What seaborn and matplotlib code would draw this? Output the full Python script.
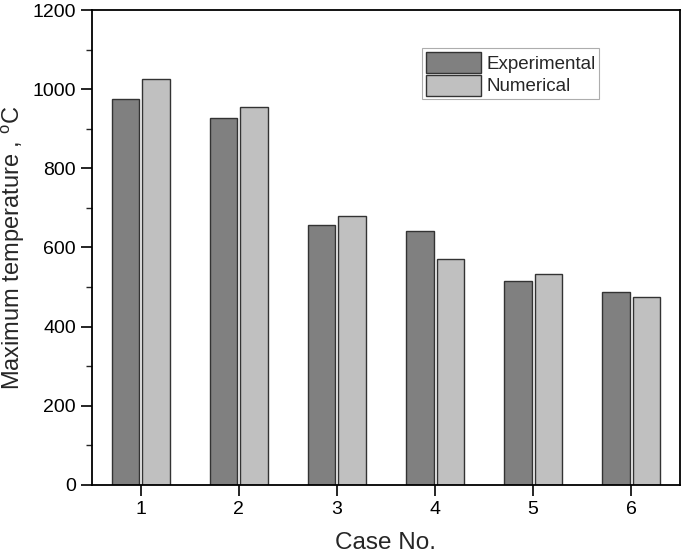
import matplotlib
matplotlib.use('Agg')
import matplotlib.pyplot as plt
import pandas as pd
import seaborn as sns
from matplotlib.ticker import MultipleLocator

cases = ['1', '2', '3', '4', '5', '6']
experimental = [975, 927, 657, 641, 515, 488]
numerical = [1025, 955, 679, 571, 532, 474]
series = ['Experimental', 'Numerical']
colors = ['#808080', '#c0c0c0']

data = pd.DataFrame({
    'case': cases * 2,
    'temp': experimental + numerical,
    'kind': [series[0]] * len(cases) + [series[1]] * len(cases),
})

sns.set_style('ticks')
plt.rcParams['font.family'] = ['Liberation Sans', 'DejaVu Sans']
plt.rcParams['mathtext.fontset'] = 'custom'
plt.rcParams['mathtext.rm'] = 'Liberation Sans'

fig = plt.figure(figsize=(6.85, 5.56), dpi=100)
ax = fig.add_axes([0.134, 0.128, 0.859, 0.854])

sns.barplot(data=data, x='case', y='temp', hue='kind', palette=colors,
            width=0.62, gap=0.1, edgecolor='#333333', linewidth=1.0,
            saturation=1, ax=ax)

ax.set_xlim(-0.5, 5.5)
ax.set_ylim(0, 1200)
ax.yaxis.set_major_locator(MultipleLocator(200))
ax.yaxis.set_minor_locator(MultipleLocator(100))
ax.tick_params(axis='both', which='major', direction='out', length=8, width=1.2,
               labelsize=14, colors='black')
ax.tick_params(axis='y', which='minor', direction='out', length=4, width=1.0)
for s in ax.spines.values():
    s.set_visible(True)
    s.set_linewidth(1.3)
    s.set_color('black')

ax.set_xlabel('Case No.', fontsize=17.5, labelpad=10)
ax.set_ylabel('Maximum temperature , $^{\\mathrm{o}}$C', fontsize=17, labelpad=4)

leg = ax.legend(loc='upper left', bbox_to_anchor=(0.562, 0.92), fontsize=13.5,
                frameon=True, fancybox=False, edgecolor='#999999',
                handlelength=2.9, handleheight=1.35, handletextpad=0.3,
                borderpad=0.2, labelspacing=0.1, borderaxespad=0)
leg.get_frame().set_linewidth(0.8)

fig.savefig('out.png', dpi=100)
